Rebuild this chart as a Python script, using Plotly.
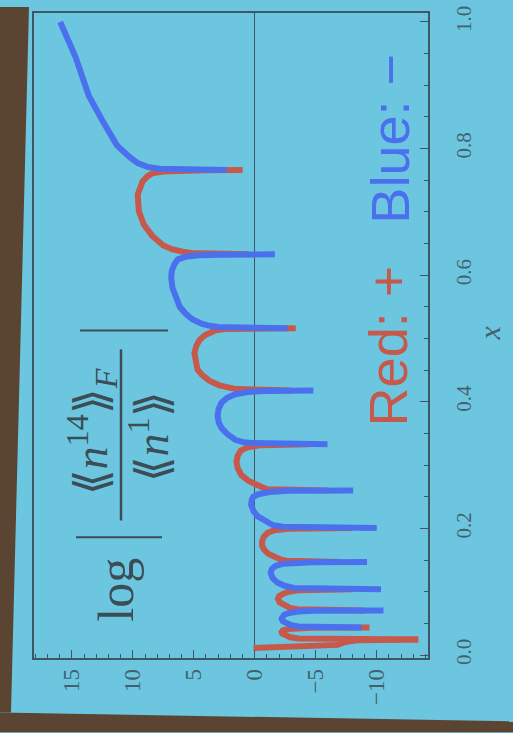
import plotly.graph_objects as go

# ---------------- data ----------------
# vertical axis of the photo = x ; horizontal axis = log|<<n^14>>_F/<<n^1>>|
# Each arc runs between two zeros of the ratio; colour = sign of the ratio.

BLUE_A_X = [0.766, 0.7663, 0.7668, 0.768, 0.771, 0.777, 0.787, 0.805, 0.841, 0.883, 0.945, 1.0]
BLUE_A_V = [2.3, 5.0, 6.6, 7.8, 8.8, 9.6, 10.3, 11.3, 12.4, 13.6, 14.7, 15.95]

RED_B_X = [0.633, 0.6333, 0.6338, 0.635, 0.637, 0.641, 0.647, 0.655, 0.662, 0.680, 0.701, 0.727, 0.748, 0.756, 0.761, 0.7637, 0.7652, 0.7657, 0.766]
RED_B_V = [0.5, 3.0, 4.3, 5.2, 5.9, 6.8, 7.5, 8.0, 8.4, 9.1, 9.5, 9.6, 9.2, 8.8, 8.4, 7.5, 6.0, 4.2, 1.0]

BLUE_C_X = [0.516, 0.5163, 0.5168, 0.518, 0.520, 0.523, 0.530, 0.539, 0.550, 0.565, 0.580, 0.596, 0.607, 0.617, 0.625, 0.629, 0.6315, 0.6324, 0.633]
BLUE_C_V = [-2.68, 0.5, 2.0, 3.0, 3.7, 4.3, 5.1, 5.66, 6.15, 6.5, 6.75, 6.85, 6.8, 6.6, 6.3, 5.7, 4.6, 3.0, -1.65]

RED_D_X = [0.418, 0.4183, 0.4188, 0.420, 0.422, 0.426, 0.433, 0.442, 0.451, 0.465, 0.477, 0.488, 0.497, 0.505, 0.510, 0.513, 0.5148, 0.5156, 0.516]
RED_D_V = [-3.0, -0.5, 0.8, 1.5, 2.0, 2.9, 3.7, 4.3, 4.7, 4.9, 4.95, 4.8, 4.55, 4.1, 3.6, 3.2, 2.4, 1.0, -3.36]

BLUE_E_X = [0.333, 0.3333, 0.3338, 0.335, 0.336, 0.340, 0.349, 0.358, 0.367, 0.378, 0.388, 0.398, 0.406, 0.412, 0.4155, 0.4172, 0.418]
BLUE_E_V = [-5.96, -2.5, -1.0, 0.3, 0.9, 1.6, 2.25, 2.7, 2.95, 3.05, 2.97, 2.75, 2.3, 1.6, 0.6, -0.8, -4.8]

RED_F_X = [0.260, 0.2603, 0.2608, 0.262, 0.265, 0.268, 0.275, 0.284, 0.295, 0.305, 0.315, 0.323, 0.328, 0.3315, 0.3325, 0.333]
RED_F_V = [-6.0, -3.0, -1.8, -1.0, -0.6, -0.25, 0.5, 1.1, 1.4, 1.5, 1.4, 1.14, 0.6, -0.5, -1.8, -4.5]

BLUE_G_X = [0.2005, 0.2008, 0.2013, 0.2025, 0.205, 0.211, 0.219, 0.227, 0.2375, 0.245, 0.250, 0.254, 0.2575, 0.2593, 0.2600]
BLUE_G_V = [-10.0, -5.0, -3.4, -2.3, -1.5, -0.85, -0.25, 0.1, 0.3, 0.25, 0.12, -0.3, -1.2, -2.8, -8.07]

RED_H_X = [0.147, 0.1473, 0.1478, 0.149, 0.151, 0.154, 0.160, 0.167, 0.173, 0.180, 0.187, 0.193, 0.197, 0.1993, 0.2005]
RED_H_V = [-7.0, -4.5, -3.3, -2.6, -2.1, -1.7, -1.1, -0.75, -0.6, -0.6, -0.75, -1.05, -1.6, -2.8, -8.0]

BLUE_I_X = [0.104, 0.1043, 0.1048, 0.106, 0.109, 0.1145, 0.122, 0.130, 0.136, 0.141, 0.144, 0.1458, 0.1466, 0.147]
BLUE_I_V = [-10.35, -5.5, -4.0, -3.2, -2.5, -1.85, -1.45, -1.3, -1.4, -1.72, -2.3, -3.3, -4.8, -9.2]

RED_J_X = [0.0703, 0.0706, 0.0711, 0.0722, 0.0745, 0.078, 0.083, 0.0886, 0.093, 0.0964, 0.1000, 0.1025, 0.1035, 0.104]
RED_J_V = [-9.0, -5.5, -4.2, -3.5, -2.9, -2.45, -2.05, -1.9, -2.0, -2.3, -2.8, -3.6, -4.8, -8.0]

BLUE_K_X = [0.0433, 0.0436, 0.0441, 0.0452, 0.047, 0.0495, 0.0535, 0.0573, 0.0605, 0.0635, 0.0665, 0.0688, 0.0698, 0.0703]
BLUE_K_V = [-8.75, -5.6, -4.3, -3.6, -3.0, -2.6, -2.3, -2.2, -2.25, -2.4, -2.8, -3.6, -4.8, -10.55]

RED_L_X = [0.0245, 0.0248, 0.0253, 0.0262, 0.0280, 0.0310, 0.0340, 0.0365, 0.0390, 0.0410, 0.0424, 0.0430, 0.0433]
RED_L_V = [-13.4, -6.5, -4.6, -3.6, -2.9, -2.45, -2.25, -2.2, -2.3, -2.7, -3.5, -4.6, -9.4]

RED_M_X = [0.011, 0.0125, 0.0145, 0.0160, 0.0200, 0.0235, 0.0245]
RED_M_V = [0.1, -2.5, -5.5, -6.8, -7.3, -8.5, -13.4]

RED_ARCS = [(RED_B_X, RED_B_V), (RED_D_X, RED_D_V), (RED_F_X, RED_F_V), (RED_H_X, RED_H_V),
            (RED_J_X, RED_J_V), (RED_L_X, RED_L_V), (RED_M_X, RED_M_V)]
BLUE_ARCS = [(BLUE_A_X, BLUE_A_V), (BLUE_C_X, BLUE_C_V), (BLUE_E_X, BLUE_E_V), (BLUE_G_X, BLUE_G_V),
             (BLUE_I_X, BLUE_I_V), (BLUE_K_X, BLUE_K_V)]

LOG_TICKS = [15, 10, 5, 0, -5, -10]
X_TICKS = [0.0, 0.2, 0.4, 0.6, 0.8, 1.0]

# ---------------- style ----------------
W, H = 513, 733
L, R, T, B = 34, 428, 6, 658          # plot frame in pixels
SLIDE = "#6cc6df"
BROWN = "#5a4532"
FRAME = "#3d5864"
TICKTXT = "#44606c"
RED = "#c6594b"
BLUE = "#4b70ee"
INK = "#3b4d56"


def px(x, y):
    return (x - L) / (R - L), (B - y) / (B - T)


fig = go.Figure()
for xs, vs in RED_ARCS:
    fig.add_trace(go.Scatter(x=vs, y=xs, mode="lines", line=dict(color=RED, width=6),
                             hoverinfo="skip", showlegend=False))
for xs, vs in BLUE_ARCS:
    fig.add_trace(go.Scatter(x=vs, y=xs, mode="lines", line=dict(color=BLUE, width=6),
                             hoverinfo="skip", showlegend=False))

shapes = []


def poly(points, color):
    pts = [px(a, b) for a, b in points]
    path = "M " + " L ".join(f"{p[0]:.4f},{p[1]:.4f}" for p in pts) + " Z"
    return dict(type="path", xref="paper", yref="paper", path=path,
                fillcolor=color, line=dict(width=0), layer="above")


def seg(x0, y0, x1, y1, w=2, color=INK):
    a = px(x0, y0)
    b = px(x1, y1)
    return dict(type="line", xref="paper", yref="paper", x0=a[0], y0=a[1], x1=b[0], y1=b[1],
                line=dict(color=color, width=w))


# photo border (projector screen edge)
shapes.append(poly([(0, 0), (29, 0), (11, 713), (0, 713)], BROWN))
shapes.append(poly([(0, 713), (513, 722), (513, 733), (0, 733)], BROWN))
# formula lines: absolute-value bars and fraction bar
shapes.append(seg(80, 327, 168, 327, 2))
shapes.append(seg(76, 536, 162, 536, 2))
shapes.append(seg(121, 346, 121, 519, 2.5))

annotations = []


def note(text, x, y, size, color, family="Liberation Serif"):
    p = px(x, y)
    annotations.append(dict(text=text, x=p[0], y=p[1], xref="paper", yref="paper",
                            showarrow=False, textangle=-90, xanchor="center", yanchor="middle",
                            font=dict(family=family, size=size, color=color)))


note("log", 116, 589, 50, INK)
note("⟪<i>n</i><sup>14</sup>⟫<sub><i>F</i></sub>", 91, 430, 46, INK)
note("⟪<i>n</i><sup>1</sup>⟫", 149, 435, 46, INK)
note("Red: +", 388, 343, 54, RED, "Liberation Sans")
note("Blue: −", 390, 133, 54, BLUE, "Liberation Sans")
note("<i>x</i>", 490, 329, 30, TICKTXT)

fig.update_layout(
    width=W, height=H,
    margin=dict(l=L, r=W - R, t=T, b=H - B),
    paper_bgcolor=SLIDE, plot_bgcolor=SLIDE,
    shapes=shapes, annotations=annotations,
    xaxis=dict(
        range=[18.1, -14.2], tickvals=LOG_TICKS, ticks="inside", ticklen=8, tickwidth=1.2,
        tickcolor=FRAME, minor=dict(dtick=1, tick0=0, ticks="inside", ticklen=4, tickcolor=FRAME),
        showline=True, linecolor=FRAME, linewidth=1.5, mirror=True,
        showgrid=False, zeroline=True, zerolinecolor=FRAME, zerolinewidth=1.2,
        tickangle=-90, ticklabelstandoff=0,
        tickfont=dict(family="Liberation Serif", size=23, color=TICKTXT),
    ),
    yaxis=dict(
        range=[-0.0047, 1.0141], side="right", tickvals=X_TICKS, tickformat=".1f",
        ticks="inside", ticklen=8, tickwidth=1.2, tickcolor=FRAME,
        minor=dict(dtick=0.05, tick0=0, ticks="inside", ticklen=4, tickcolor=FRAME),
        showline=True, linecolor=FRAME, linewidth=1.5, mirror=True,
        showgrid=False, zeroline=False, tickangle=-90, ticklabelstandoff=16,
        tickfont=dict(family="Liberation Serif", size=21, color=TICKTXT),
    ),
)

fig.write_html("out.html")
